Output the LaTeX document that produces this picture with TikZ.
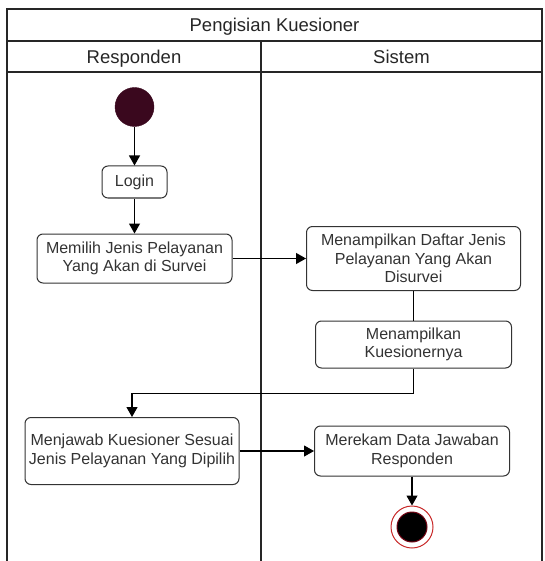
\documentclass[tikz,border=0pt]{standalone}
\usepackage{fontspec}
\setmainfont{Liberation Sans}
\usetikzlibrary{arrows.meta}
\definecolor{startc}{RGB}{58,8,30}
\definecolor{endring}{RGB}{200,40,40}
\begin{document}
\begin{tikzpicture}[x=1pt,y=-1pt,
  act/.style={draw=black!80, line width=1pt, rounded corners=6pt, fill=white, align=center,
    font=\fontsize{16}{18.5}\selectfont, text=black!80, inner sep=0pt},
  flow/.style={draw=black, line width=1.1pt, -{Triangle[length=10pt,width=11pt]}},
  plain/.style={draw=black, line width=1pt},
  lane/.style={draw=black!85, line width=1.3pt},
  head/.style={font=\fontsize{18.5}{21}\selectfont, text=black!85, anchor=base}]
\useasboundingbox (0,0) rectangle (544,561);
% swimlane frame
\coordinate (tl) at (7,9);
\coordinate (tr) at (542,9);
\coordinate (bl) at (7,561);
\coordinate (br) at (542,561);
\coordinate (dt) at (261,41);
\coordinate (db) at (261,561);
\draw[lane] (bl) -- (tl) -- (tr) -- (br);
\draw[lane] (7,41) -- (542,41);
\draw[lane] (7,72) -- (542,72);
\draw[lane] (dt) -- (db);
\node[head] (title) at (274.5,32) {Pengisian Kuesioner};
\node[head] (resp) at (134,63.5) {Responden};
\node[head] (sis) at (401.5,63.5) {Sistem};
% nodes
\node[circle, fill=startc, draw=startc, minimum size=39pt, inner sep=0pt] (start) at (134.5,107) {};
\node[act, minimum width=65pt, minimum height=32pt] (login) at (134.5,182) {Login};
\node[act, minimum width=195pt, minimum height=49pt] (pilih) at (134.5,258.5) {Memilih Jenis Pelayanan\\Yang Akan di Survei};
\node[act, minimum width=214pt, minimum height=64pt] (daftar) at (413.5,258.5) {Menampilkan Daftar Jenis\\Pelayanan Yang Akan\\Disurvei};
\node[act, minimum width=196pt, minimum height=47pt] (kues) at (413.5,344.5) {Menampilkan\\Kuesionernya};
\node[act, minimum width=214pt, minimum height=67pt] (jawab) at (132,451) {Menjawab Kuesioner Sesuai\\Jenis Pelayanan Yang Dipilih};
\node[act, minimum width=195pt, minimum height=50pt] (rekam) at (412,451) {Merekam Data Jawaban\\Responden};
\node[circle, draw=endring, line width=1pt, fill=white, minimum size=42pt, inner sep=0pt] (end) at (412,527) {};
\node[circle, draw=startc!70!red, line width=1pt, fill=black, minimum size=30pt, inner sep=0pt] (endin) at (412,527) {};
% connectors
\draw[flow] (start) -- (login);
\draw[flow] (login) -- (pilih);
\draw[flow] (pilih) -- (daftar);
\draw[plain] (daftar) -- (kues);
\draw[flow] (kues.south) -- ++(0,25) -| (jawab.north);
\draw[flow] (jawab) -- (rekam);
\draw[flow] (rekam) -- (end);
\end{tikzpicture}
\end{document}
